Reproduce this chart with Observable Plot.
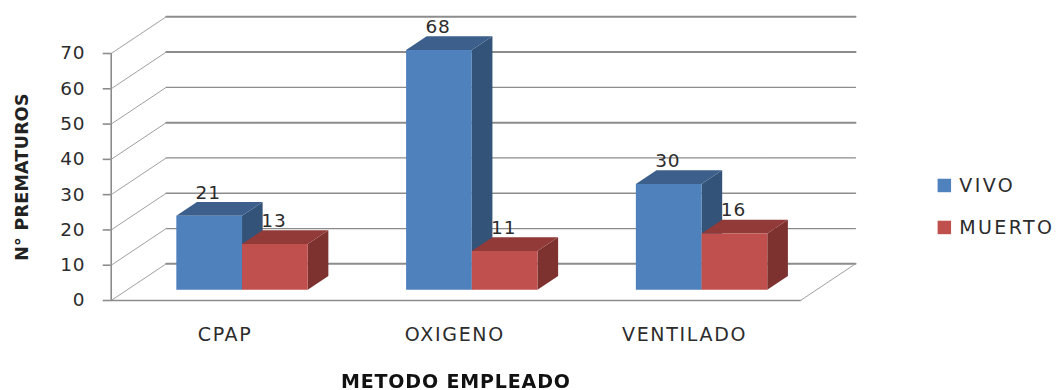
<!DOCTYPE html>
<html><head><meta charset="utf-8">
<script src="https://cdn.jsdelivr.net/npm/d3@7"></script>
<script src="https://cdn.jsdelivr.net/npm/@observablehq/plot@0.6"></script>
<style>
html,body{margin:0;padding:0;background:#fff;overflow:hidden}
svg{display:block;filter:blur(.45px)}
g[aria-label="y-axis tick label"] text{font-size:18.5px;letter-spacing:.7px;fill:#2c2c2c}
g[aria-label="x-axis tick label"] text{font-size:19px;letter-spacing:1.7px;fill:#2c2c2c}
.val text{font-size:18.5px;letter-spacing:.8px;fill:#2c2c2c}
.xt text{font-size:19px;letter-spacing:.85px;font-weight:bold;fill:#111}
.yt text{font-size:17.5px;letter-spacing:.25px;font-weight:bold;fill:#222}
.lg text{font-size:19px;letter-spacing:2.4px;fill:#2c2c2c}
</style></head><body><div id="c"></div>
<script>
const categories = ["CPAP", "OXIGENO", "VENTILADO"];
const seriesNames = ["VIVO", "MUERTO"];
const vivo = [21, 68, 30];
const muerto = [13, 11, 16];
const yTicks = [0, 10, 20, 30, 40, 50, 60, 70];
const gridWeights = [2, 1.2, 1.5, 1.2, 2, 1.2, 2, 2];
const frontColors = ["#4F81BD", "#C0504D"];
const topColors = ["#3C5F8B", "#913A38"];
const sideColors = ["#335378", "#7D3230"];
const legendY = [32.6, 20.7];

// oblique projection: x in category units, v in data units, d in depth units (0 front wall, 1 back wall)
const kx = 55 / 229.8, kv = 36.7 / 3.53;
const P = (c, v, d) => ({x: c + d * kx, y: v + d * kv});
const barW = 0.286, d0 = 0.29, d1 = 0.665;

const faces = [];
function addFace(id, color, pts){ pts.forEach(p => faces.push({...p, id, color})); }
categories.forEach((cat, i) => {
  [vivo[i], muerto[i]].forEach((v, s) => {
    const a = i + 0.5 - barW + s * barW, b = a + barW;
    addFace(`${cat}-${s}-side`, sideColors[s], [P(b,0,d0),P(b,v,d0),P(b,v,d1),P(b,0,d1)]);
    addFace(`${cat}-${s}-top`, topColors[s], [P(a,v,d0),P(b,v,d0),P(b,v,d1),P(a,v,d1)]);
    addFace(`${cat}-${s}-front`, frontColors[s], [P(a,0,d0),P(b,0,d0),P(b,v,d0),P(a,v,d0)]);
  });
});

const walls = [];
yTicks.forEach((v, i) => {
  walls.push({pts:[P(0,v,1),P(3,v,1)], w:gridWeights[i], c:"#8C8C8C"});
  walls.push({pts:[P(0,v,0),P(0,v,1)], w:1, c:"#A0A0A0"});
});
const frameLines = [[P(0,0,0),P(0,70,0)], [P(0,0,0),P(3,0,0)]];
const floorEdge = [P(3,0,0),P(3,0,1)];

const labels = [];
categories.forEach((cat, i) => {
  [vivo[i], muerto[i]].forEach((v, s) => {
    const a = i + 0.5 - barW + s * barW;
    labels.push({...P(a + barW / 2, v, d0), v});
  });
});

const gray = "#8C8C8C", font = "'DejaVu Sans', sans-serif";
const chart = Plot.plot({
  width: 1064, height: 390,
  marginLeft: 110.7, marginRight: 264, marginTop: 53, marginBottom: 90,
  x: {domain: [0, 3]},
  y: {domain: [0, 70]},
  style: {fontFamily: font, background: "#fff", overflow: "visible"},
  marks: [
    ...walls.map(l => Plot.line(l.pts, {x:"x", y:"y", stroke:l.c, strokeWidth:l.w})),
    ...frameLines.map(l => Plot.line(l, {x:"x", y:"y", stroke:gray, strokeWidth:1.6})),
    Plot.line(floorEdge, {x:"x", y:"y", stroke:"#A0A0A0", strokeWidth:1}),
    Plot.axisY({ticks:yTicks, tickSize:8, tickPadding:18, label:null, stroke:gray, strokeWidth:1.6}),
    Plot.axisX({ticks:[0.5,1.5,2.5], tickFormat:t=>categories[Math.floor(t)], tickSize:0, tickPadding:27, dx:-1, label:null}),
    Plot.line(faces, {x:"x", y:"y", z:"id", fill:"color", stroke:null}),
    Plot.text(labels, {x:"x", y:"y", text:"v", dy:-23, dx:-1, className:"val"}),
    Plot.text(["METODO EMPLEADO"], {frameAnchor:"bottom", lineAnchor:"middle", dy:81, className:"xt"}),
    Plot.text(["N° PREMATUROS"], {frameAnchor:"left", textAnchor:"middle", lineAnchor:"middle", rotate:-90, dx:-89, className:"yt"}),
    Plot.dot(seriesNames, {x:()=>3.626, y:(d,i)=>legendY[i], symbol:"square", r:7.6, fill:(d,i)=>frontColors[i], stroke:null}),
    Plot.text(seriesNames, {x:()=>3.691, y:(d,i)=>legendY[i], text:d=>d, textAnchor:"start", className:"lg"})
  ]
});
document.getElementById("c").append(chart);
</script></body></html>
